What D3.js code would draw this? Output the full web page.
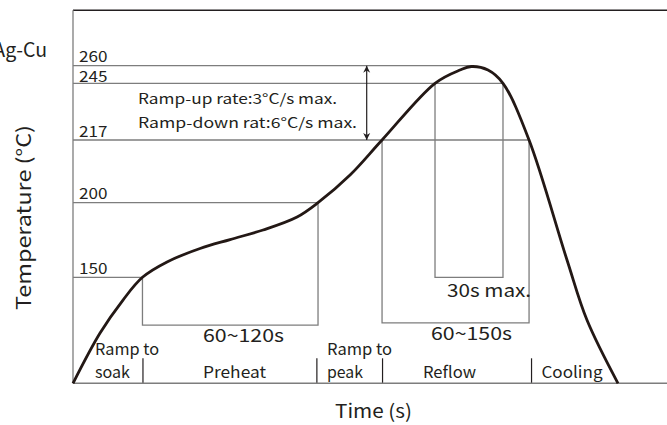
<!DOCTYPE html>
<html>
<head>
<meta charset="utf-8">
<script src="https://cdn.jsdelivr.net/npm/d3@7/dist/d3.min.js"></script>
<style>
  body { margin: 0; background: #fff; }
  svg { display: block; font-family: "Noto Sans CJK SC", "Noto Sans", sans-serif; }
  .ref { stroke: #7d7d7d; stroke-width: 1.3; fill: none; }
  .frame { stroke: #231f20; stroke-width: 1.4; fill: none; }
  .lbl { fill: #231f20; }
</style>
</head>
<body>
<div id="chart"></div>
<script>
// temperature profile (time s, temp °C)
var profileTime = [0, 16.4, 30.3, 42.1, 57.0, 77.0, 95.2, 115.2, 135.8, 148.5, 167.9, 187.3, 219.4, 234.5, 241.5, 251.5, 260.6, 276.4, 299.4, 311.5, 330.3];
var profileTemp = [25, 84.3, 123.2, 150, 160.3, 169.3, 175.3, 181.7, 190.4, 200, 207.5, 217, 245, 256.3, 259.3, 256.3, 245, 217, 161.6, 99.6, 25];

// temperature levels and where their guide lines stop
var levels = [260, 245, 217, 200, 150];
var levelEnds = [241.8, 260.6, 276.4, 148.5, 42.1];

// phases along the time axis
var phaseBounds = [42.1, 147.5, 187.3, 277.6];

var width = 667, height = 425,
	x0 = 73, yBottom = 383.3, yTop = 10.3;

// the picture is schematic, so the temperature axis is piecewise
var xScale = d3.scaleLinear().domain([0, 360]).range([x0, x0 + 360 * 1.65]);
var yScale = d3.scaleLinear()
	.domain([25, 150, 200, 217, 245, 260, 300])
	.range([yBottom, 277.3, 202.7, 140, 83.3, 65.7, yTop]);

var svg = d3.select("#chart").append("svg")
	.attr("width", width)
	.attr("height", height);

svg.append("defs").append("marker")
	.attr("id", "head")
	.attr("viewBox", "0 0 10 10")
	.attr("refX", 10).attr("refY", 5)
	.attr("markerWidth", 7).attr("markerHeight", 14)
	.attr("markerUnits", "userSpaceOnUse")
	.attr("orient", "auto-start-reverse")
	.append("path")
	.attr("d", "M0,0 L10,5 L0,10 L3,5 Z")
	.attr("fill", "#231f20");

// frame: top line, left axis, bottom axis
svg.append("line").attr("class", "frame")
	.attr("x1", x0).attr("x2", width).attr("y1", yTop).attr("y2", yTop);
svg.append("line").attr("class", "ref")
	.attr("x1", x0).attr("x2", x0).attr("y1", yTop).attr("y2", yBottom);

// phase dividers as ticks of a bottom axis
var phaseAxis = d3.axisTop(xScale)
	.tickValues(phaseBounds)
	.tickSize(25)
	.tickFormat("");
var pa = svg.append("g")
	.attr("transform", "translate(0," + yBottom + ")")
	.call(phaseAxis);
pa.select(".domain").remove();
pa.selectAll(".tick line").attr("stroke", "#231f20").attr("stroke-width", 1.2);
svg.append("line").attr("class", "ref").style("stroke-width", 1.6)
	.attr("x1", x0).attr("x2", width).attr("y1", yBottom).attr("y2", yBottom);

// horizontal guide lines and their labels
svg.selectAll("line.level")
	.data(levels)
	.enter().append("line")
	.attr("class", "ref level")
	.attr("x1", x0)
	.attr("x2", function(d, i) { return xScale(levelEnds[i]); })
	.attr("y1", function(d) { return yScale(d); })
	.attr("y2", function(d) { return yScale(d); });
svg.selectAll("text.level")
	.data(levels)
	.enter().append("text")
	.attr("class", "lbl level")
	.attr("x", x0 + 6)
	.attr("y", function(d) { return yScale(d) - (d == 245 ? 1.8 : 3.5); })
	.attr("font-size", 15)
	.attr("textLength", 28.5)
	.attr("lengthAdjust", "spacingAndGlyphs")
	.text(function(d) { return d; });

// brackets below the curve: [left time, right time, left top temp, right top temp, bottom temp]
var brackets = [
	[42.1, 148.5, 150, 200, 93.6],
	[187.3, 276.4, 217, 217, 96.3],
	[219.4, 260.6, 245, 245, 150]
];
svg.selectAll("path.bracket")
	.data(brackets)
	.enter().append("path")
	.attr("class", "ref bracket")
	.attr("d", function(d) {
		return "M" + xScale(d[0]) + "," + yScale(d[2]) +
			"V" + yScale(d[4]) +
			"H" + xScale(d[1]) +
			"V" + yScale(d[3]);
	});

// ramp-rate arrow between 217 and 260
svg.append("line")
	.attr("x1", xScale(178)).attr("x2", xScale(178))
	.attr("y1", yScale(217)).attr("y2", yScale(260))
	.attr("stroke", "#231f20").attr("stroke-width", 1.2)
	.attr("marker-start", "url(#head)")
	.attr("marker-end", "url(#head)");

// temperature curve
var line = d3.line()
	.x(function(d) { return xScale(d[0]); })
	.y(function(d) { return yScale(d[1]); })
	.curve(d3.curveCatmullRom.alpha(0.5));
svg.append("path")
	.datum(d3.zip(profileTime, profileTemp))
	.attr("d", line)
	.attr("fill", "none")
	.attr("stroke", "#231815")
	.attr("stroke-width", 2.8);

// texts
function label(t, x, y, size, anchor, len) {
	var el = svg.append("text").attr("class", "lbl")
		.attr("x", x).attr("y", y)
		.attr("font-size", size)
		.attr("text-anchor", anchor || "start")
		.text(t);
	if (len) el.attr("textLength", len).attr("lengthAdjust", "spacingAndGlyphs");
	return el;
}
label("Ramp-up rate:3°C/s max.", 138, 104.3, 14, "start", 199);
label("Ramp-down  rat:6°C/s max.", 138, 127.5, 14, "start", 219);
label("60~120s", 203, 341.5, 18, "start", 81);
label("60~150s", 431, 339.5, 18, "start", 81);
label("30s max.", 447, 296.5, 18, "start", 84);
label("Ramp to", 95, 355, 16, "start", 64);
label("soak", 95, 378, 16, "start", 35);
label("Preheat", 203, 378, 16, "start", 63);
label("Ramp to", 327, 355, 16, "start", 65);
label("peak", 327, 378, 16, "start", 36);
label("Reflow", 423, 378, 16, "start", 53);
label("Cooling", 541.5, 378, 16, "start", 61);
label("Ag-Cu", 47, 57, 19.5, "end");
label("Time (s)", 335, 418, 19, "start", 77);

svg.append("text").attr("class", "lbl")
	.attr("transform", "translate(31,310) rotate(-90)")
	.attr("font-size", 19.5)
	.attr("textLength", 185)
	.attr("lengthAdjust", "spacingAndGlyphs")
	.text("Temperature (°C)");
</script>
</body>
</html>
